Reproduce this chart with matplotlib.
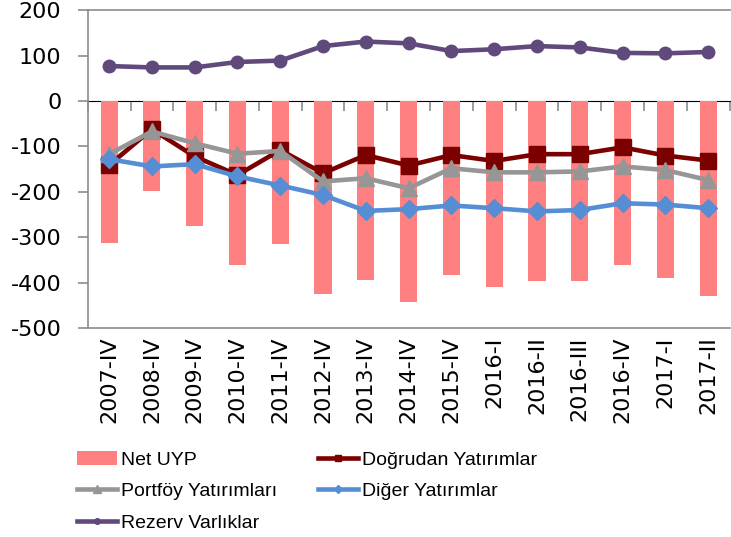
import matplotlib
matplotlib.use("Agg")
import matplotlib.pyplot as plt
from matplotlib.ticker import NullFormatter
import numpy as np

donemler = ["2007-IV", "2008-IV", "2009-IV", "2010-IV", "2011-IV", "2012-IV", "2013-IV",
            "2014-IV", "2015-IV", "2016-I", "2016-II", "2016-III", "2016-IV", "2017-I", "2017-II"]
net_uyp = [-313, -199, -276, -362, -315, -424, -395, -443, -383, -409, -397, -396, -362, -390, -430]
dogrudan = [-141, -62, -122, -163, -108, -159, -119, -142, -119, -132, -117, -117, -102, -120, -131]
portfoy = [-117, -67, -93, -116, -110, -177, -170, -192, -148, -157, -157, -155, -144, -152, -174]
diger = [-128, -144, -139, -166, -186, -207, -242, -238, -230, -236, -243, -240, -225, -228, -236]
rezerv = [77, 74, 74, 86, 89, 121, 131, 127, 110, 114, 121, 118, 106, 105, 108]

plt.rcParams['font.family'] = ['DejaVu Sans']
plt.rcParams['axes.unicode_minus'] = False

fig = plt.figure(figsize=(7.31, 5.37), dpi=100)
ax = fig.add_axes([0.120, 0.389, 0.878, 0.592])

x = np.arange(len(donemler))
b = ax.bar(x, net_uyp, width=0.4, color='#FF8080', label='Net UYP', zorder=2)
l1, = ax.plot(x, dogrudan, color='#7B0000', lw=3.3, marker='s', ms=11, label='Doğrudan Yatırımlar', zorder=3)
l2, = ax.plot(x, portfoy, color='#969696', lw=3.3, marker='^', ms=12, label='Portföy Yatırımları', zorder=4)
l3, = ax.plot(x, diger, color='#558ED5', lw=3.3, marker='D', ms=9, label='Diğer Yatırımlar', zorder=5)
l4, = ax.plot(x, rezerv, color='#604A7B', lw=3.3, marker='o', ms=9, label='Rezerv Varlıklar', zorder=5)

ax.set_xlim(-0.5, len(donemler) - 0.5)
ax.set_ylim(-500, 200)
ax.set_yticks(np.arange(-500, 201, 100))
ax.set_xticks(x)
ax.set_xticklabels(donemler, rotation=90, va='top', ha='center')
ax.tick_params(axis='x', length=0, labelsize=16, pad=6)
ax.tick_params(axis='y', length=7, width=1.2, color='#8C8C8C', labelsize=16, direction='out', pad=12)
for s in ax.spines.values():
    s.set_color('#8C8C8C')
    s.set_linewidth(1.2)
ax.spines['right'].set_visible(False)

# kategori ekseni sifirdan geciyor, cizgiler kategoriler arasinda
sec = ax.secondary_xaxis(500 / 700)
sec.set_xticks(np.arange(-0.5, len(donemler), 1.0))
sec.xaxis.set_major_formatter(NullFormatter())
sec.tick_params(axis='x', direction='in', length=7, width=1.2, color='#8C8C8C')
sec.spines['bottom'].set_color('#8C8C8C')
sec.spines['bottom'].set_linewidth(1.2)

h = [b, l2, l4, l1, l3]
lg = fig.legend(handles=h, labels=[a.get_label() for a in h], ncol=2, loc='upper left',
                bbox_to_anchor=(0.106, 0.160), bbox_transform=fig.transFigure, frameon=False,
                prop={'family': ['Liberation Sans', 'DejaVu Sans'], 'size': 14},
                handlelength=2.05, handletextpad=0.2, columnspacing=2.1, labelspacing=0.72,
                markerscale=0.45, borderpad=0, borderaxespad=0)

fig.savefig('out.png', dpi=100)
